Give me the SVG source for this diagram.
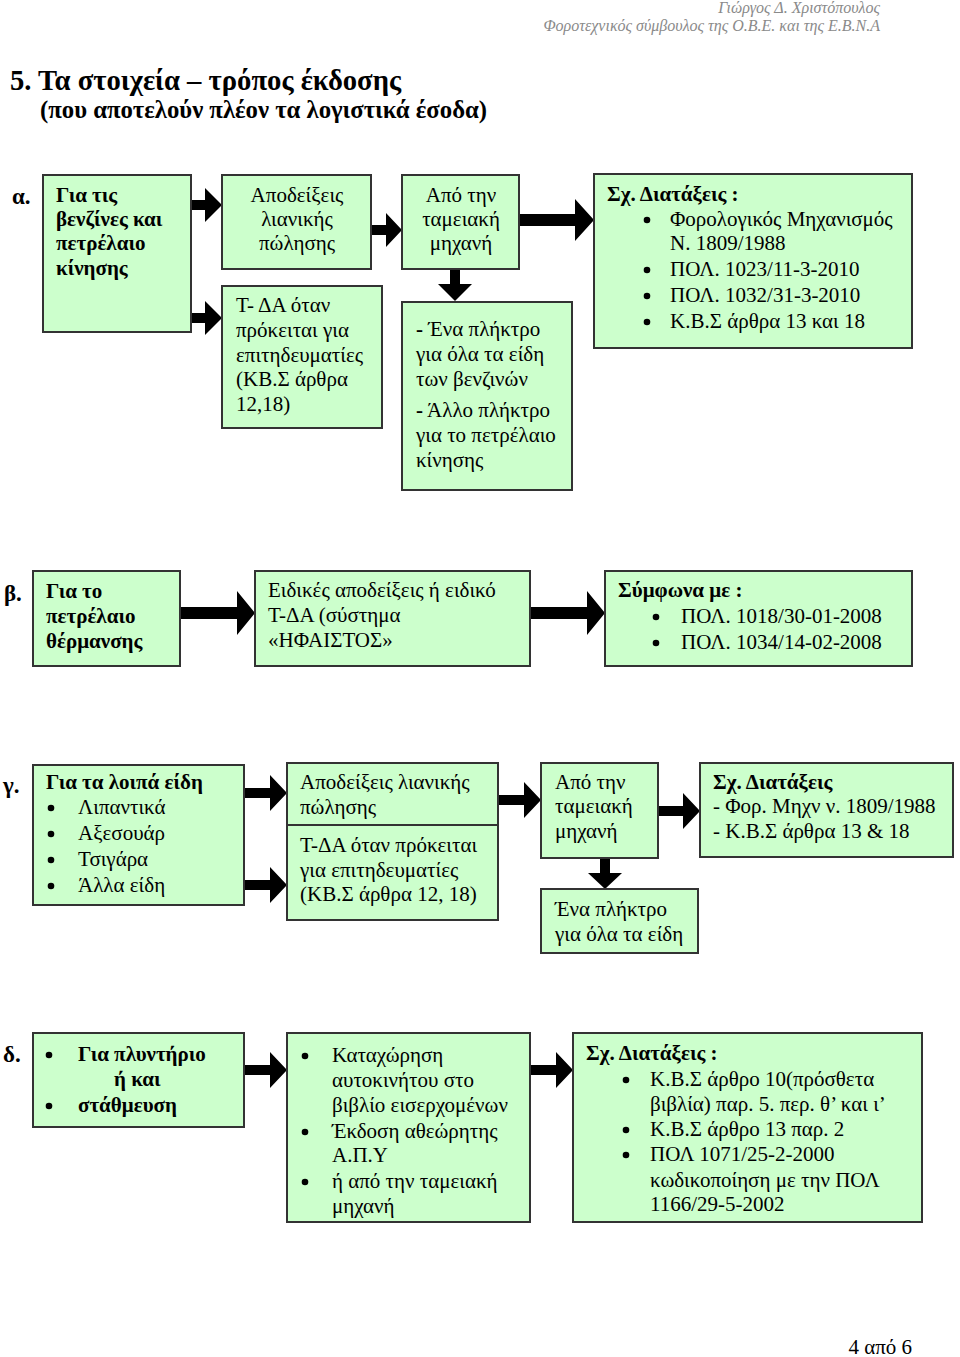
<svg xmlns="http://www.w3.org/2000/svg" width="960" height="1357" viewBox="0 0 960 1357">
<style>
text{font-family:"Liberation Serif","Times New Roman",serif;font-size:21px;fill:#000}
.b{font-weight:bold}
.box{fill:#ccffcc;stroke:#333;stroke-width:2}
.arr{fill:#000}
.hdr{font-style:italic;font-size:16px;fill:#8a8a8a}
.lbl{font-weight:bold;font-size:23px}
.t1{font-weight:bold;font-size:29px}
.t2{font-weight:bold;font-size:26px}
.c{text-anchor:middle}
</style>
<rect width="960" height="1357" fill="#fff"/>
<g id="header">
<text class="hdr" x="880" y="13" text-anchor="end">Γιώργος Δ. Χριστόπουλος</text>
<text class="hdr" x="880" y="31" text-anchor="end">Φοροτεχνικός σύμβουλος της Ο.Β.Ε. και της Ε.Β.Ν.Α</text>
<text class="t1" x="10" y="90" textLength="391" lengthAdjust="spacingAndGlyphs">5. Τα στοιχεία – τρόπος έκδοσης</text>
<text class="t2" x="40" y="118" textLength="447" lengthAdjust="spacingAndGlyphs">(που αποτελούν πλέον τα λογιστικά έσοδα)</text>
</g>
<g id="labels">
<text class="lbl" x="12" y="204">α.</text>
<text class="lbl" x="4" y="601">β.</text>
<text class="lbl" x="3" y="793">γ.</text>
<text class="lbl" x="3" y="1062">δ.</text>
</g>
<g id="connectors">
<polygon class="arr" points="191,200 205,200 205,188 222,205 205,222 205,210 191,210"/>
<polygon class="arr" points="191,313 205,313 205,301 222,318 205,335 205,323 191,323"/>
<polygon class="arr" points="371,225 386,225 386,213 402,230 386,247 386,235 371,235"/>
<polygon class="arr" points="519,214 575,214 575,199 594,220 575,241 575,226 519,226"/>
<polygon class="arr" points="450,269 460,269 460,284 472,284 455,301 438,284 450,284"/>
<polygon class="arr" points="180,607 237,607 237,591 255,613 237,635 237,619 180,619"/>
<polygon class="arr" points="530,607 587,607 587,591 605,613 587,635 587,619 530,619"/>
<polygon class="arr" points="244,788 270,788 270,775 287,793 270,811 270,798 244,798"/>
<polygon class="arr" points="244,880 270,880 270,867 287,885 270,903 270,890 244,890"/>
<polygon class="arr" points="498,795 524,795 524,782 541,800 524,818 524,805 498,805"/>
<polygon class="arr" points="658,806 683,806 683,793 700,811 683,829 683,816 658,816"/>
<polygon class="arr" points="600,858 610,858 610,873 622,873 605,889 588,873 600,873"/>
<polygon class="arr" points="244,1065 270,1065 270,1052 287,1070 270,1088 270,1075 244,1075"/>
<polygon class="arr" points="530,1065 556,1065 556,1052 573,1070 556,1088 556,1075 530,1075"/>
</g>
<g id="a1"><rect class="box" x="43" y="175" width="148" height="157"/>
<text class="b" x="56" y="202">Για τις</text><text class="b" x="56" y="226">βενζίνες και</text><text class="b" x="56" y="250">πετρέλαιο</text><text class="b" x="56" y="275">κίνησης</text></g>
<g id="a2"><rect class="box" x="222" y="175" width="149" height="94"/>
<text class="c" x="297" y="202">Αποδείξεις</text><text class="c" x="297" y="226">λιανικής</text><text class="c" x="297" y="250">πώλησης</text></g>
<g id="a3"><rect class="box" x="222" y="286" width="160" height="142"/>
<text x="236" y="312">Τ- ΔΑ όταν</text><text x="236" y="337">πρόκειται για</text><text x="236" y="362">επιτηδευματίες</text><text x="236" y="386">(ΚΒ.Σ άρθρα</text><text x="236" y="411">12,18)</text></g>
<g id="a4"><rect class="box" x="402" y="175" width="117" height="94"/>
<text class="c" x="461" y="202">Από την</text><text class="c" x="461" y="226">ταμειακή</text><text class="c" x="461" y="250">μηχανή</text></g>
<g id="a5"><rect class="box" x="402" y="302" width="170" height="188"/>
<text x="416" y="336"><tspan class="b">-</tspan> Ένα πλήκτρο</text><text x="416" y="361">για όλα τα είδη</text><text x="416" y="386">των βενζινών</text>
<text x="416" y="417"><tspan class="b">-</tspan> Άλλο πλήκτρο</text><text x="416" y="442">για το πετρέλαιο</text><text x="416" y="467">κίνησης</text></g>
<g id="a6"><rect class="box" x="594" y="174" width="318" height="174"/>
<text class="b" x="607" y="201">Σχ. Διατάξεις :</text>
<circle cx="647" cy="220" r="3.3"/><text x="670" y="226">Φορολογικός Μηχανισμός</text>
<text x="670" y="250">Ν. 1809/1988</text>
<circle cx="647" cy="270" r="3.3"/><text x="670" y="276">ΠΟΛ. 1023/11-3-2010</text>
<circle cx="647" cy="296" r="3.3"/><text x="670" y="302">ΠΟΛ. 1032/31-3-2010</text>
<circle cx="647" cy="322" r="3.3"/><text x="670" y="328">Κ.Β.Σ άρθρα 13 και 18</text></g>
<g id="b1"><rect class="box" x="33" y="571" width="147" height="95"/>
<text class="b" x="46" y="598">Για το</text><text class="b" x="46" y="623">πετρέλαιο</text><text class="b" x="46" y="648">θέρμανσης</text></g>
<g id="b2"><rect class="box" x="255" y="571" width="275" height="95"/>
<text x="268" y="597">Ειδικές αποδείξεις ή ειδικό</text><text x="268" y="622">Τ-ΔΑ (σύστημα</text><text x="268" y="647">«ΗΦΑΙΣΤΟΣ»</text></g>
<g id="b3"><rect class="box" x="605" y="571" width="307" height="95"/>
<text class="b" x="618" y="597">Σύμφωνα με :</text>
<circle cx="656" cy="617" r="3.3"/><text x="681" y="623">ΠΟΛ. 1018/30-01-2008</text>
<circle cx="656" cy="643" r="3.3"/><text x="681" y="649">ΠΟΛ. 1034/14-02-2008</text></g>
<g id="c1"><rect class="box" x="33" y="765" width="211" height="140"/>
<text class="b" x="46" y="789">Για τα λοιπά είδη</text>
<circle cx="51" cy="808" r="3.3"/><text x="78" y="814">Λιπαντικά</text>
<circle cx="51" cy="834" r="3.3"/><text x="78" y="840">Αξεσουάρ</text>
<circle cx="51" cy="860" r="3.3"/><text x="78" y="866">Τσιγάρα</text>
<circle cx="51" cy="886" r="3.3"/><text x="78" y="892">Άλλα είδη</text></g>
<g id="c2a"><rect class="box" x="287" y="763" width="211" height="62"/>
<text x="300" y="789">Αποδείξεις λιανικής</text><text x="300" y="814">πώλησης</text></g>
<g id="c2b"><rect class="box" x="287" y="825" width="211" height="95"/>
<text x="300" y="852">Τ-ΔΑ όταν πρόκειται</text><text x="300" y="877">για επιτηδευματίες</text><text x="300" y="901">(ΚΒ.Σ άρθρα 12, 18)</text></g>
<g id="c3"><rect class="box" x="541" y="763" width="117" height="95"/>
<text x="555" y="789">Από την</text><text x="555" y="813">ταμειακή</text><text x="555" y="838">μηχανή</text></g>
<g id="c4"><rect class="box" x="541" y="889" width="157" height="64"/>
<text x="555" y="916">Ένα πλήκτρο</text><text x="555" y="941">για όλα τα είδη</text></g>
<g id="c5"><rect class="box" x="700" y="763" width="253" height="94"/>
<text class="b" x="713" y="789">Σχ. Διατάξεις</text><text x="713" y="813">- Φορ. Μηχν ν. 1809/1988</text><text x="713" y="838">- Κ.Β.Σ άρθρα 13 &amp; 18</text></g>
<g id="d1"><rect class="box" x="33" y="1033" width="211" height="94"/>
<circle cx="49" cy="1055" r="3.3"/><text class="b" x="78" y="1061">Για πλυντήριο</text>
<text class="b" x="114" y="1086">ή και</text>
<circle cx="49" cy="1106" r="3.3"/><text class="b" x="78" y="1112">στάθμευση</text></g>
<g id="d2"><rect class="box" x="287" y="1033" width="243" height="189"/>
<circle cx="305" cy="1056" r="3.3"/><text x="332" y="1062">Καταχώρηση</text>
<text x="332" y="1087">αυτοκινήτου στο</text><text x="332" y="1112">βιβλίο εισερχομένων</text>
<circle cx="305" cy="1132" r="3.3"/><text x="332" y="1138">Έκδοση αθεώρητης</text>
<text x="332" y="1162">Α.Π.Υ</text>
<circle cx="305" cy="1182" r="3.3"/><text x="332" y="1188">ή από την ταμειακή</text>
<text x="332" y="1213">μηχανή</text></g>
<g id="d3"><rect class="box" x="573" y="1033" width="349" height="189"/>
<text class="b" x="586" y="1060">Σχ. Διατάξεις :</text>
<circle cx="626" cy="1080" r="3.3"/><text x="650" y="1086">Κ.Β.Σ άρθρο 10(πρόσθετα</text>
<text x="650" y="1111">βιβλία) παρ. 5. περ. θ’ και ι’</text>
<circle cx="626" cy="1130" r="3.3"/><text x="650" y="1136">Κ.Β.Σ άρθρο 13 παρ. 2</text>
<circle cx="626" cy="1155" r="3.3"/><text x="650" y="1161">ΠΟΛ 1071/25-2-2000</text>
<text x="650" y="1187">κωδικοποίηση με την ΠΟΛ</text><text x="650" y="1211">1166/29-5-2002</text></g>
<g id="footer"><text x="912" y="1354" text-anchor="end">4 από 6</text></g>
</svg>
